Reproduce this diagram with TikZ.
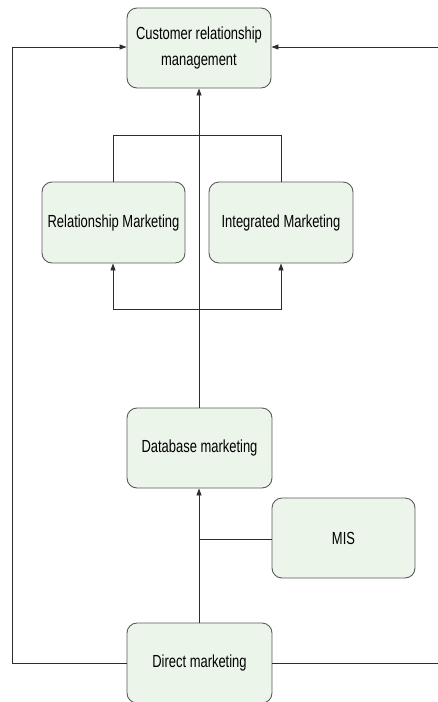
\documentclass[tikz,border=0pt]{standalone}
\usepackage{fontspec}
\usepackage{graphicx}
\setmainfont{Liberation Sans}
\usetikzlibrary{arrows.meta}
\definecolor{boxfill}{RGB}{236,245,234}
\definecolor{boxdraw}{RGB}{90,90,90}
\definecolor{linec}{RGB}{45,45,45}
\newcommand\nt[1]{\raisebox{-2pt}{\scalebox{0.74}[1]{#1}}}
\tikzset{
  blockbox/.style={draw=boxdraw, fill=boxfill, rounded corners=10pt, line width=0.9pt,
    minimum width=144pt, minimum height=80pt, inner sep=0pt, align=center,
    font=\fontsize{17.5}{25}\selectfont, text=black},
  conn/.style={draw=linec, line width=0.9pt},
  arr/.style={conn, -{Triangle[length=7pt,width=5pt]}}
}
\begin{document}
\begin{tikzpicture}[x=1pt,y=-1pt]
\useasboundingbox (0,0) rectangle (437,702);
\node[blockbox] (crm) at (199,48) {\nt{Customer relationship}\\[1pt]\nt{management}};
\node[blockbox, minimum width=143pt, minimum height=81pt] (rm) at (113.5,222.5) {\nt{Relationship Marketing}};
\node[blockbox, minimum height=81pt] (im) at (281,222.5) {\nt{Integrated Marketing}};
\node[blockbox, minimum width=145pt] (db) at (199.5,448) {\nt{Database marketing}};
\node[blockbox, minimum width=143pt] (mis) at (343.5,538) {\nt{MIS}};
\node[blockbox, minimum width=145pt] (dm) at (199.5,663) {\nt{Direct marketing}};
\coordinate (jmis) at (199,539);
\coordinate (bl) at (113,309);
\coordinate (br) at (281,309);
\coordinate (tl) at (113,135);
\coordinate (tr) at (281,135);
\coordinate (ll) at (12,663);
\coordinate (lu) at (12,47);
\coordinate (rl) at (440,663);
\coordinate (ru) at (440,47);
% direct -> database
\draw[arr] (dm.north -| jmis) -- (db.south -| jmis);
% MIS joins
\draw[conn] (mis.west |- jmis) -- (jmis);
% database -> CRM
\draw[arr] (db.north -| jmis) -- (crm.south -| jmis);
% bottom bracket to RM and IM
\draw[arr] (bl -| jmis) -- (bl) -- (rm.south -| bl);
\draw[arr] (br -| jmis) -- (br) -- (im.south -| br);
% top bracket
\draw[conn] (rm.north -| tl) -- (tl) -- (tr) -- (im.north -| tr);
% outer loops
\draw[arr] (dm.west |- ll) -- (ll) -- (lu) -- (crm.west |- lu);
\draw[arr] (dm.east |- rl) -- (rl) -- (ru) -- (crm.east |- ru);
\end{tikzpicture}
\end{document}
